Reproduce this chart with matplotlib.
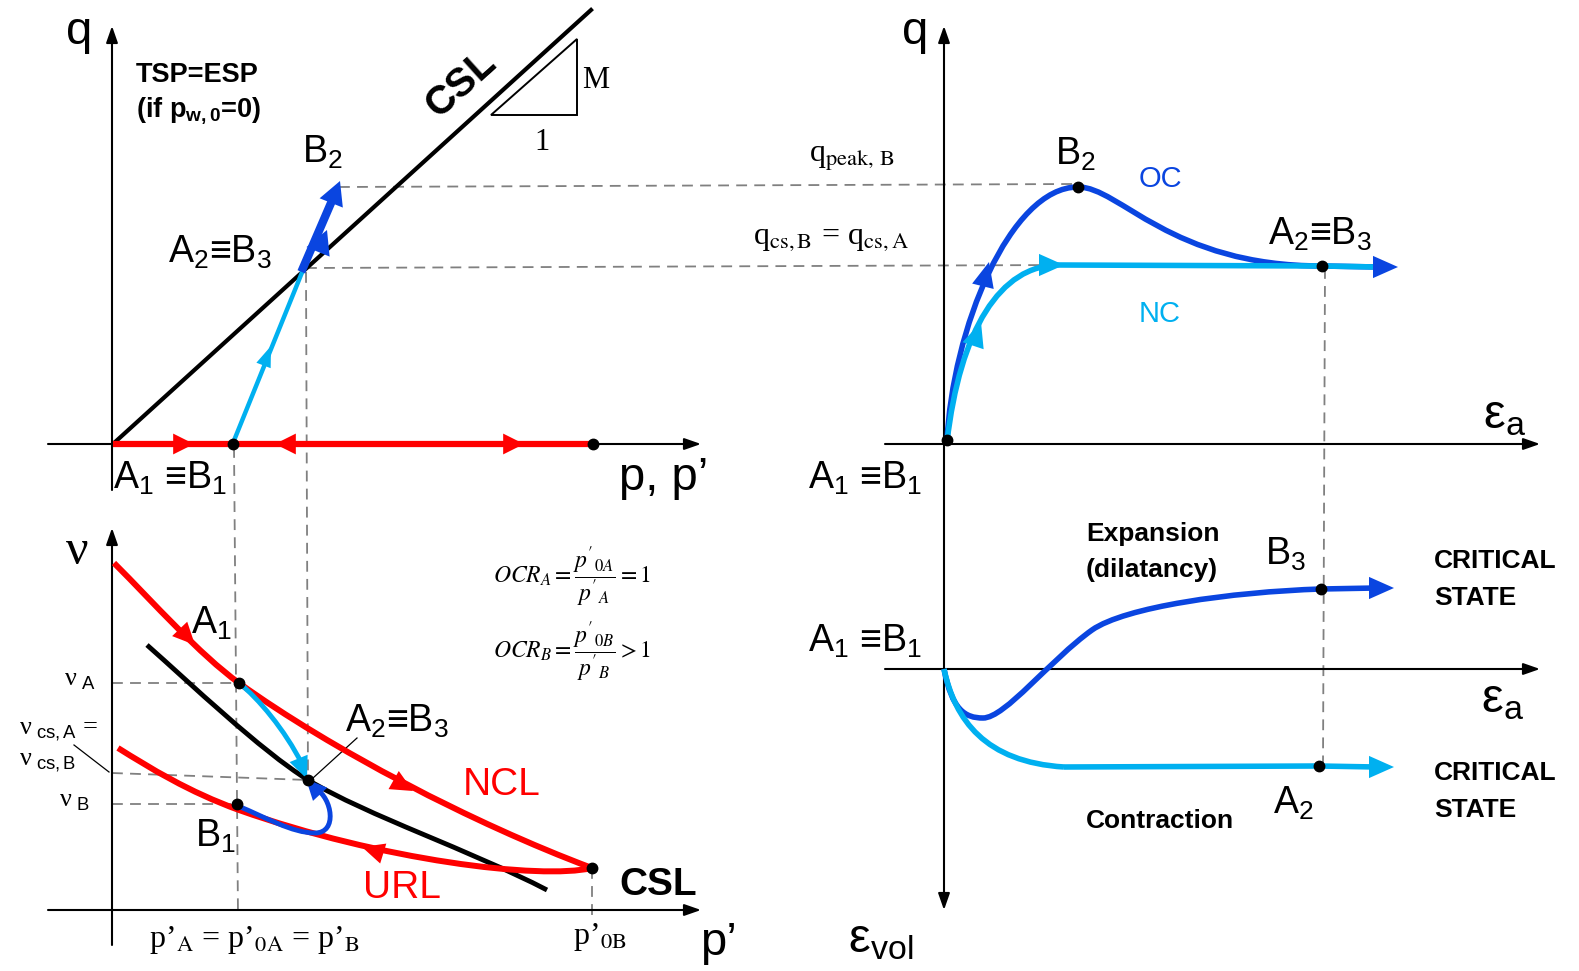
"""Critical state schematic: p-q, v-p', q-ea and evol-ea planes for NC (A) and OC (B) clay."""

import matplotlib
matplotlib.use("Agg")
import matplotlib.pyplot as plt
from matplotlib.path import Path
from matplotlib.patches import PathPatch, Polygon

W, H = 1579, 971

RED = "#ff0000"
DARK_BLUE = "#0a45e0"
LIGHT_BLUE = "#00b0f0"
GREY = "#808080"

SANS = ["Liberation Sans", "DejaVu Sans"]
NARROW = ["Liberation Sans Narrow", "Liberation Sans", "DejaVu Sans"]
SERIF = ["Liberation Serif", "DejaVu Serif"]

# ---- p-q plane (top left), picture pixels
CSL_PQ_X = [114, 591]
CSL_PQ_Y = [443, 10]
RED_PQ_X = [113, 593]
RED_PQ_Y = [444, 444]
NC_PQ_X = [233, 303]
NC_PQ_Y = [443, 270]
OC_PQ_X = [303, 334]
OC_PQ_Y = [268, 196]
SLOPE_X = [491, 577, 577]
SLOPE_Y = [115, 115, 39]

# ---- q-ea plane (top right), bezier control points
OC_Q = [(947, 442), (952, 330), (1010, 187), (1078, 187),
        (1120, 187), (1170, 266), (1322, 266)]
OC_Q_TAIL = [(1322, 266), (1378, 267)]
NC_Q = [(947, 442), (960, 330), (1000, 265), (1059, 265)]
NC_Q_TAIL = [(1059, 265), (1322, 266), (1378, 267)]

# ---- evol-ea plane (bottom right)
OC_VOL = [(944, 669), (952, 710), (965, 718), (983, 718),
          (1005, 718), (1050, 660), (1092, 630),
          (1125, 607), (1230, 592), (1321, 589)]
OC_VOL_TAIL = [(1321, 589), (1376, 588)]
NC_VOL = [(944, 669), (955, 720), (985, 762), (1064, 767)]
NC_VOL_TAIL = [(1064, 767), (1319, 766), (1376, 767)]

# ---- v-p' plane (bottom left)
NCL_VP = [(114, 563), (154, 603), (199, 654), (239, 683),
          (331, 749), (472, 823), (592, 868)]
URL_VP = [(592, 868), (540, 880), (380, 860), (239, 810),
          (189, 792), (150, 768), (118, 748)]
CSL_VP = [(147, 645), (190, 683), (260, 750), (308, 780),
          (368, 816), (470, 850), (547, 890)]
NC_VP = [(239, 683), (258, 698), (285, 730), (302, 764)]
OC_VP = [(238, 806), (265, 817), (292, 833), (315, 833),
         (338, 833), (332, 798), (316, 789)]

# arrowheads along the paths: (tail, tip)
RED_PQ_HEADS = [((168, 444), (194, 444)), ((301, 444), (275, 444)),
                ((498, 444), (524, 444))]
NC_PQ_HEADS = [((261, 372), (271, 346))]
OC_PQ_HEADS = [((318, 252), (327, 230)), ((330, 206), (340, 181))]
OC_Q_HEADS = [((982, 290), (989, 262)), ((1372, 267), (1398, 267))]
NC_Q_HEADS = [((973, 346), (981, 322)), ((1038, 265), (1064, 265))]
OC_VOL_HEADS = [((1368, 588), (1394, 588))]
NC_VOL_HEADS = [((1368, 767), (1394, 767))]
NCL_HEADS = [((175, 624), (195, 645)), ((390, 778), (413, 791))]
URL_HEADS = [((388, 855), (362, 847))]
NC_VP_HEADS = [((296, 752), (307, 779))]
OC_VP_HEADS = [((318, 792), (306, 779))]

# guide lines: ((x0, y0), (x1, y1))
DASHED = [
    ((339, 187), (1072, 184)),
    ((306, 268), (1060, 265)),
    ((306, 272), (308, 780)),
    ((234, 447), (238, 915)),
    ((1325, 268), (1323, 766)),
    ((112, 683), (239, 683)),
    ((112, 773), (308, 780)),
    ((112, 804), (237, 804)),
    ((592, 868), (592, 915)),
]
LEADERS = [((74, 745), (109, 772)), ((357, 738), (313, 778))]

DOTS_X = [233, 593, 947, 1078, 1322, 1321, 1319, 239, 308, 237, 592]
DOTS_Y = [444, 444, 440, 187, 266, 589, 766, 683, 780, 804, 868]

# axes: (start, tip, both_ends)
AXES = [
    ((48, 444), (701, 444), False),
    ((112, 490), (112, 26), False),
    ((885, 444), (1540, 444), False),
    ((944, 910), (944, 26), True),
    ((885, 669), (1540, 669), False),
    ((48, 910), (701, 910), False),
    ((112, 945), (112, 528), False),
]


def _curve(ax, pts, color, lw):
    codes = [Path.MOVETO] + [Path.CURVE4] * (len(pts) - 1)
    ax.add_patch(PathPatch(Path(pts, codes), fill=False, edgecolor=color,
                           lw=lw, capstyle="butt", zorder=3))


def _line(ax, pts, color, lw, **kw):
    ax.plot([p[0] for p in pts], [p[1] for p in pts], color=color, lw=lw,
            solid_capstyle="butt", zorder=3, **kw)


def _heads(ax, heads, color, length=1.3, width=0.6, scale=10):
    for tail, tip in heads:
        ax.annotate("", xy=tip, xytext=tail,
                    arrowprops=dict(arrowstyle=f"-|>,head_length={length},head_width={width}",
                                    color=color, lw=0, shrinkA=0, shrinkB=0,
                                    mutation_scale=scale), zorder=4)


def _txt(ax, x, y, s, size, family=SANS, **kw):
    kw.setdefault("ha", "left")
    kw.setdefault("va", "baseline")
    ax.text(x, y, s, fontsize=size, family=family, **kw)


def main():
    plt.rcParams["mathtext.fontset"] = "custom"
    plt.rcParams["mathtext.rm"] = "Liberation Sans"
    plt.rcParams["mathtext.it"] = "Liberation Sans:italic"
    plt.rcParams["mathtext.bf"] = "Liberation Sans:bold"

    fig = plt.figure(figsize=(W / 100, H / 100), dpi=100)
    ax = fig.add_axes([0, 0, 1, 1])
    ax.set_xlim(0, W)
    ax.set_ylim(H, 0)
    ax.axis("off")

    for start, tip, both in AXES:
        style = "<|-|>" if both else "-|>"
        ax.annotate("", xy=tip, xytext=start,
                    arrowprops=dict(arrowstyle=f"{style},head_length=1.0,head_width=0.35",
                                    color="black", lw=1.5, shrinkA=0, shrinkB=0,
                                    mutation_scale=10), zorder=2)

    for (x0, y0), (x1, y1) in DASHED:
        ax.plot([x0, x1], [y0, y1], color=GREY, lw=1.3, dashes=(6, 4), zorder=1)
    for (x0, y0), (x1, y1) in LEADERS:
        ax.plot([x0, x1], [y0, y1], color="black", lw=0.9, zorder=2)

    # p-q plane
    ax.plot(CSL_PQ_X, CSL_PQ_Y, color="black", lw=3, zorder=2)
    ax.add_patch(Polygon(list(zip(SLOPE_X, SLOPE_Y)), closed=True, fill=False,
                         edgecolor="black", lw=1.4))
    ax.plot(RED_PQ_X, RED_PQ_Y, color=RED, lw=4.5, solid_capstyle="butt", zorder=3)
    _heads(ax, RED_PQ_HEADS, RED, 1.5, 0.75)
    ax.plot(NC_PQ_X, NC_PQ_Y, color=LIGHT_BLUE, lw=3.2, zorder=3)
    _heads(ax, NC_PQ_HEADS, LIGHT_BLUE, 1.5, 0.55)
    ax.plot(OC_PQ_X, OC_PQ_Y, color=DARK_BLUE, lw=6, zorder=3)
    _heads(ax, OC_PQ_HEADS, DARK_BLUE, 1.7, 0.9)

    # q-ea plane
    _curve(ax, OC_Q, DARK_BLUE, 4)
    _line(ax, OC_Q_TAIL, DARK_BLUE, 4)
    _curve(ax, NC_Q, LIGHT_BLUE, 4)
    _line(ax, NC_Q_TAIL, LIGHT_BLUE, 4)
    _heads(ax, OC_Q_HEADS, DARK_BLUE, 1.8, 0.8)
    _heads(ax, NC_Q_HEADS, LIGHT_BLUE, 1.8, 0.8)

    # evol-ea plane
    _curve(ax, OC_VOL, DARK_BLUE, 4)
    _line(ax, OC_VOL_TAIL, DARK_BLUE, 4)
    _curve(ax, NC_VOL, LIGHT_BLUE, 4)
    _line(ax, NC_VOL_TAIL, LIGHT_BLUE, 4)
    _heads(ax, OC_VOL_HEADS, DARK_BLUE, 1.8, 0.8)
    _heads(ax, NC_VOL_HEADS, LIGHT_BLUE, 1.8, 0.8)

    # v-p' plane
    _curve(ax, CSL_VP, "black", 3.5)
    _curve(ax, NCL_VP, RED, 4.3)
    _curve(ax, URL_VP, RED, 4.3)
    _heads(ax, NCL_HEADS, RED, 1.6, 0.75)
    _heads(ax, URL_HEADS, RED, 1.6, 0.75)
    _curve(ax, NC_VP, LIGHT_BLUE, 3.5)
    _heads(ax, NC_VP_HEADS, LIGHT_BLUE, 1.6, 0.7)
    _curve(ax, OC_VP, DARK_BLUE, 3.5)
    _heads(ax, OC_VP_HEADS, DARK_BLUE, 1.5, 0.7)

    ax.plot(DOTS_X, DOTS_Y, "o", color="black", ms=7.5, zorder=5)

    # ---- texts, top left
    _txt(ax, 66, 44, "q", 34)
    _txt(ax, 136, 82, "TSP=ESP", 19.5, NARROW, fontweight="bold")
    _txt(ax, 136, 116, r"(if p$_\mathbf{w,0}$=0)", 19.5, NARROW, fontweight="bold")
    ax.text(461, 84, "CSL", fontsize=29, family=SANS, fontweight="bold",
            rotation=42, rotation_mode="anchor", ha="center", va="center")
    _txt(ax, 596, 81, "M", 22, SERIF, ha="center", va="center")
    _txt(ax, 542, 143, "1", 22, SERIF, ha="center", va="center")
    _txt(ax, 302, 163, r"B$_\mathrm{2}$", 27)
    _txt(ax, 168, 263, r"A$_\mathrm{2}$≡B$_\mathrm{3}$", 27)
    _txt(ax, 113, 489, r"A$_\mathrm{1}$ ≡B$_\mathrm{1}$", 27)
    _txt(ax, 619, 490, "p, p’", 34)

    # ---- top right
    _txt(ax, 902, 44, "q", 34)
    _txt(ax, 809, 162, r"q$_\mathrm{peak,\,B}$", 23, SERIF, math_fontfamily="stix")
    _txt(ax, 753, 244, r"q$_\mathrm{cs,B}$ = q$_\mathrm{cs,A}$", 23, SERIF,
         math_fontfamily="stix")
    _txt(ax, 1055, 165, r"B$_\mathrm{2}$", 27)
    _txt(ax, 1139, 187, "OC", 21, color=DARK_BLUE)
    _txt(ax, 1139, 322, "NC", 21, color=LIGHT_BLUE)
    _txt(ax, 1268, 245, r"A$_\mathrm{2}$≡B$_\mathrm{3}$", 27)
    _txt(ax, 1483, 428, r"ε$_\mathrm{a}$", 35)
    _txt(ax, 808, 489, r"A$_\mathrm{1}$ ≡B$_\mathrm{1}$", 27)

    # ---- bottom right
    _txt(ax, 808, 652, r"A$_\mathrm{1}$ ≡B$_\mathrm{1}$", 27)
    _txt(ax, 1086, 541, "Expansion", 19, NARROW, fontweight="bold")
    _txt(ax, 1086, 577, "(dilatancy)", 19, NARROW, fontweight="bold")
    _txt(ax, 1265, 565, r"B$_\mathrm{3}$", 27)
    _txt(ax, 1434, 568, "CRITICAL", 19, NARROW, fontweight="bold")
    _txt(ax, 1434, 605, "STATE", 19, NARROW, fontweight="bold")
    _txt(ax, 1481, 712, r"ε$_\mathrm{a}$", 35)
    _txt(ax, 1086, 828, "Contraction", 19, NARROW, fontweight="bold")
    _txt(ax, 1273, 814, r"A$_\mathrm{2}$", 27)
    _txt(ax, 1434, 780, "CRITICAL", 19, NARROW, fontweight="bold")
    _txt(ax, 1434, 817, "STATE", 19, NARROW, fontweight="bold")
    _txt(ax, 848, 952, r"ε$_\mathrm{vol}$", 35)

    # ---- bottom left
    _txt(ax, 66, 564, "ν", 36, SERIF)
    _txt(ax, 493, 577, r"$OCR_A=\dfrac{p'_{0A}}{p'_A}=1$", 17, SERIF,
         math_fontfamily="stix", va="center")
    _txt(ax, 493, 652, r"$OCR_B=\dfrac{p'_{0B}}{p'_B}>1$", 17, SERIF,
         math_fontfamily="stix", va="center")
    _txt(ax, 191, 634, r"A$_\mathrm{1}$", 27)
    _txt(ax, 64, 686, r"ν$_{\ \mathrm{A}}$", 19, SERIF)
    _txt(ax, 19, 734, r"ν$_{\ \mathrm{cs,A}}$ =", 19, SERIF)
    _txt(ax, 19, 765, r"ν$_{\ \mathrm{cs,B}}$", 19, SERIF)
    _txt(ax, 59, 807, r"ν$_{\ \mathrm{B}}$", 19, SERIF)
    _txt(ax, 345, 732, r"A$_\mathrm{2}$≡B$_\mathrm{3}$", 27)
    _txt(ax, 463, 795, "NCL", 28, color=RED)
    _txt(ax, 195, 847, r"B$_\mathrm{1}$", 27)
    _txt(ax, 363, 898, "URL", 28, color=RED)
    _txt(ax, 619, 895, "CSL", 28, fontweight="bold")
    _txt(ax, 149, 947, r"p’$_\mathrm{A}$ = p’$_\mathrm{0A}$ = p’$_\mathrm{B}$", 23,
         SERIF, math_fontfamily="stix")
    _txt(ax, 573, 944, r"p’$_\mathrm{0B}$", 23, SERIF, math_fontfamily="stix")
    _txt(ax, 700, 955, "p’", 34)

    fig.savefig("out.png", dpi=100, facecolor="white")
    plt.close(fig)


if __name__ == "__main__":
    main()
